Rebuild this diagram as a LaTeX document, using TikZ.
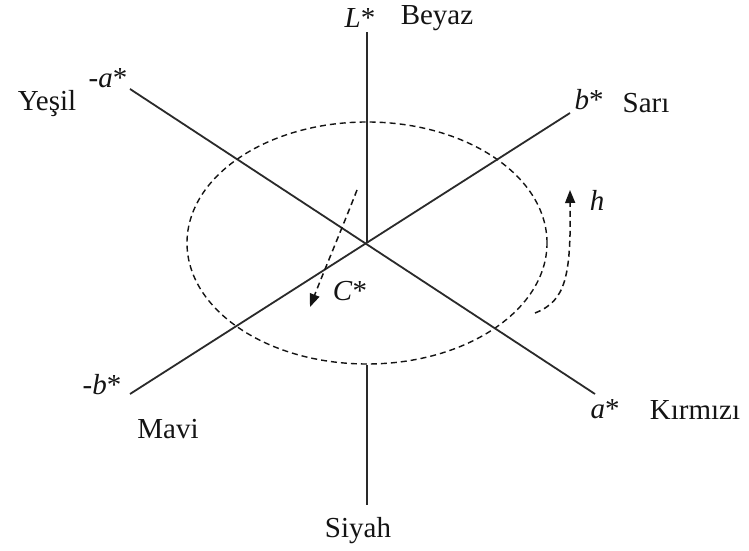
\documentclass[tikz,border=0pt]{standalone}
\usepackage{fontspec,xcolor,tikz}
\setmainfont{Liberation Serif}
\usetikzlibrary{arrows.meta}
\definecolor{ink}{HTML}{141414}
\definecolor{achse}{HTML}{2A2A2A}
\newcommand{\etikett}{\fontsize{29}{34}\selectfont}
\tikzset{achsenlinie/.style={achse,line width=1.8pt},
  kreislinie/.style={ink,line width=1.4pt,dash pattern=on 6pt off 4pt},
  drehpfeil/.style={ink,line width=1.5pt,dash pattern=on 6pt off 4pt,
    -{Triangle[length=13pt,width=10pt]}},
  marke/.style={inner sep=0,text=ink,font=\etikett}}

\begin{document}
\begin{tikzpicture}[x=1pt,y=1pt]
\useasboundingbox (0,0) rectangle (749,551);
\fill[white] (0,0) rectangle (749,551);
% Mittelpunkt und Achsenenden
\coordinate (O) at (367,308);
\coordinate (Loben) at (367,519);
\coordinate (Lunten) at (367,186);
\coordinate (Lende) at (367,46);
\coordinate (aminus) at (130,462);
\coordinate (aplus) at (595,157);
\coordinate (bplus) at (570,438);
\coordinate (bminus) at (130,157);
% Farbkreis
\draw[kreislinie] (O) ellipse [x radius=180,y radius=121];
% Achsen
\draw[achsenlinie] (O) -- (Loben);
\draw[achsenlinie] (Lunten) -- (Lende);
\draw[achsenlinie] (aminus) -- (aplus);
\draw[achsenlinie] (bminus) -- (bplus);
% Chroma und Farbton
\coordinate (Cstart) at (357,361);
\coordinate (Cend) at (310,244);
\draw[drehpfeil] (Cstart) .. controls (345,330) and (322,275) .. (Cend);
\coordinate (hstart) at (535,238);
\coordinate (hend) at (570,361);
\draw[drehpfeil] (hstart) .. controls (566,250) and (571,275) .. (hend);
% Beschriftung
\node[marke] (lL) at (360,533) {\textit{L}*};
\node[marke] (lBeyaz) at (437,533) {Beyaz};
\node[marke] (lamin) at (108,473) {\textit{-a}*};
\node[marke] (lYesil) at (47,447) {Yeşil};
\node[marke] (lbplus) at (589,451) {\textit{b}*};
\node[marke] (lSari) at (646,448) {Sarı};
\node[marke] (lbmin) at (102,166) {\textit{-b}*};
\node[marke] (lMavi) at (168,122) {Mavi};
\node[marke] (laplus) at (605,142) {\textit{a}*};
\node[marke] (lKirmizi) at (695,141) {Kırmızı};
\node[marke] (lSiyah) at (358,20) {Siyah};
\node[marke] (lC) at (350,260) {\textit{C}*};
\node[marke] (lh) at (597,351) {\textit{h}};
\end{tikzpicture}
\end{document}
